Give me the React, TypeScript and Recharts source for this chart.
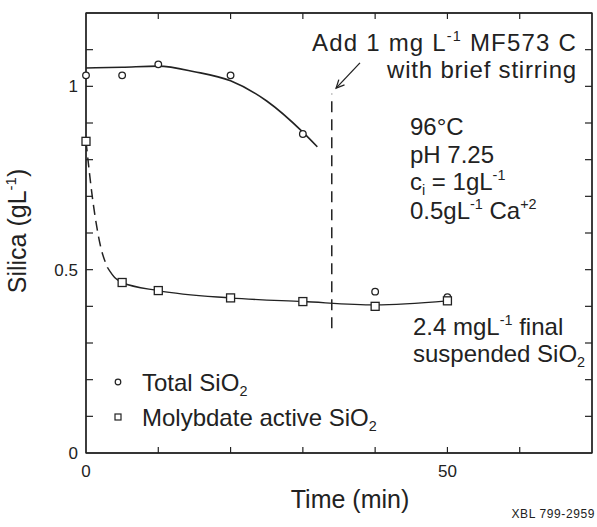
import React from 'react';
import {
  ComposedChart,
  Line,
  Scatter,
  XAxis,
  YAxis,
  ReferenceLine,
  CartesianGrid,
  Customized,
} from 'recharts';

// Measured samples
const sampleTime = [0, 5, 10, 20, 30, 40, 50];
const totalSiO2 = [1.03, 1.03, 1.06, 1.03, 0.87, 0.44, 0.425];
const molybdateSiO2 = [0.85, 0.465, 0.443, 0.423, 0.413, 0.4, 0.415];

// Hand-drawn trend curves
const totalFitTime = [0, 5, 10, 15, 20, 25, 30, 32];
const totalFitValue = [1.05, 1.052, 1.055, 1.04, 1.015, 0.96, 0.875, 0.835];
const molyDashTime = [0, 1, 2, 3];
const molyDashValue = [0.85, 0.68, 0.565, 0.505];
const molyFitTime = [3, 4, 5, 10, 20, 30, 40, 50];
const molyFitValue = [0.505, 0.478, 0.465, 0.443, 0.423, 0.413, 0.404, 0.415];

// Axes
const xDomain = [0, 70];
const yDomain = [0, 1.2];
const xLabelTicks = [0, 50];
const yLabelTicks = [0, 0.5, 1];
const xMinorTicks = [10, 20, 30, 40, 50, 60];
const yMinorTicks = [0.1, 0.2, 0.3, 0.4, 0.5, 0.6, 0.7, 0.8, 0.9, 1.0, 1.1];

// Flocculant addition marker
const additionTime = 34;
const additionSpan = [0.34, 0.98];

const pairs = (xs: number[], ys: number[]) => xs.map((x, i) => ({ x, y: ys[i] }));

const totalPoints = pairs(sampleTime, totalSiO2);
const molyPoints = pairs(sampleTime, molybdateSiO2);
const totalFit = pairs(totalFitTime, totalFitValue);
const molyDash = pairs(molyDashTime, molyDashValue);
const molyFit = pairs(molyFitTime, molyFitValue);

// Chart layout
const W = 597;
const H = 527;
const M = { top: 13, right: 5, bottom: 0, left: 0 };
const Y_AXIS_W = 86;
const X_AXIS_H = 74;
const plot = {
  left: M.left + Y_AXIS_W,
  top: M.top,
  right: W - M.right,
  bottom: H - M.bottom - X_AXIS_H,
};
const px = (v: number) => plot.left + ((v - xDomain[0]) / (xDomain[1] - xDomain[0])) * (plot.right - plot.left);
const py = (v: number) => plot.bottom - ((v - yDomain[0]) / (yDomain[1] - yDomain[0])) * (plot.bottom - plot.top);

const INK = '#222222';
const FONT = '"Liberation Sans", Arial, sans-serif';

type Part = [string, ('n' | 'sup' | 'sub')?];

const Rich = ({ x, y, parts, size, anchor = 'start', spacing = 0, transform }: {
  x: number; y: number; parts: Part[]; size: number; anchor?: string; spacing?: number; transform?: string;
}) => {
  let shift = 0;
  return (
    <text x={x} y={y} fontSize={size} fill={INK} fontFamily={FONT} textAnchor={anchor}
      letterSpacing={spacing} transform={transform}>
      {parts.map(([t, kind = 'n'], i) => {
        const target = kind === 'sup' ? -0.42 * size : kind === 'sub' ? 0.22 * size : 0;
        const dy = target - shift;
        shift = target;
        return (
          <tspan key={i} dy={dy} fontSize={kind === 'n' ? size : size * 0.6}>{t}</tspan>
        );
      })}
    </text>
  );
};

const CircleMark = (p: any) => (
  <circle cx={p.cx} cy={p.cy} r={3.3} fill="#fff" stroke={INK} strokeWidth={1.3} />
);
const SquareMark = (p: any) => (
  <rect x={p.cx - 4} y={p.cy - 4} width={8} height={8} fill="#fff" stroke={INK} strokeWidth={1.3} />
);

const Arrow = (p: any) => {
  const { x1, y1, x2, y2 } = p;
  const ang = Math.atan2(y2 - y1, x2 - x1);
  const L = 9;
  const a1 = ang + Math.PI - 0.45;
  const a2 = ang + Math.PI + 0.45;
  return (
    <g stroke={INK} strokeWidth={1.3} fill="none">
      <line x1={x1} y1={y1} x2={x2} y2={y2} />
      <path d={`M${x2 + L * Math.cos(a1)},${y2 + L * Math.sin(a1)} L${x2},${y2} L${x2 + L * Math.cos(a2)},${y2 + L * Math.sin(a2)}`} />
    </g>
  );
};

// Box frame with inward ticks on all four sides
const Frame = () => (
  <g>
    <rect x={plot.left} y={plot.top} width={plot.right - plot.left} height={plot.bottom - plot.top}
      fill="none" stroke={INK} strokeWidth={1.3} />
    {xMinorTicks.map((t) => (
      <line key={`xb${t}`} x1={px(t)} y1={plot.bottom} x2={px(t)} y2={plot.bottom - 6} stroke={INK} strokeWidth={1.2} />
    ))}
    {xMinorTicks.map((t) => (
      <line key={`xt${t}`} x1={px(t)} y1={plot.top} x2={px(t)} y2={plot.top + 6} stroke={INK} strokeWidth={1.2} />
    ))}
    {yMinorTicks.map((t) => (
      <line key={`yl${t}`} x1={plot.left} y1={py(t)} x2={plot.left + 7} y2={py(t)} stroke={INK} strokeWidth={1.2} />
    ))}
    {yMinorTicks.map((t) => (
      <line key={`yr${t}`} x1={plot.right} y1={py(t)} x2={plot.right - 7} y2={py(t)} stroke={INK} strokeWidth={1.2} />
    ))}
  </g>
);

const Annotations = () => (
  <g>
    <Frame />
    <Rich x={26} y={231} size={25} anchor="middle" transform="rotate(-90 26 231)"
      parts={[['Silica (gL'], ['-1', 'sup'], [')']]} />
    <Rich x={350} y={508} size={25} anchor="middle" parts={[['Time (min)']]} />
    <Rich x={577} y={51} size={24} anchor="end" spacing={1.2}
      parts={[['Add 1 mg L'], ['-1', 'sup'], [' MF573 C']]} />
    <Rich x={577} y={78} size={24} anchor="end" spacing={0.8} parts={[['with brief stirring']]} />
    <Rich x={410} y={135} size={24} parts={[['96°C']]} />
    <Rich x={410} y={163} size={24} parts={[['pH 7.25']]} />
    <Rich x={410} y={190} size={24} parts={[['c'], ['i', 'sub'], [' = 1gL'], ['-1', 'sup']]} />
    <Rich x={410} y={219} size={24} parts={[['0.5gL'], ['-1', 'sup'], [' Ca'], ['+2', 'sup']]} />
    <Rich x={413} y={335} size={24} parts={[['2.4 mgL'], ['-1', 'sup'], [' final']]} />
    <Rich x={413} y={362} size={24} parts={[['suspended SiO'], ['2', 'sub']]} />
    <circle cx={118} cy={382} r={2.8} fill="#fff" stroke={INK} strokeWidth={1.2} />
    <Rich x={142} y={391} size={24} parts={[['Total SiO'], ['2', 'sub']]} />
    <rect x={115} y={414} width={6} height={6} fill="#fff" stroke={INK} strokeWidth={1.2} />
    <Rich x={142} y={426} size={24} parts={[['Molybdate active SiO'], ['2', 'sub']]} />
    <text x={595} y={518} fontSize={12} fill={INK} fontFamily={FONT} textAnchor="end" letterSpacing={0.6}>
      XBL 799-2959
    </text>
  </g>
);

const axisLine = { stroke: INK, strokeWidth: 1.3 };
const tickText = { fill: INK, fontSize: 17, fontFamily: FONT };

export default function App() {
  return (
    <div style={{ position: 'fixed', left: 0, top: 0, background: '#fff' }}>
      <ComposedChart width={W} height={H} margin={M}>
        <CartesianGrid horizontalValues={[yDomain[1]]} verticalValues={[xDomain[1]]}
          stroke={INK} strokeWidth={1.3} strokeOpacity={1} />
        <XAxis type="number" dataKey="x" domain={xDomain} ticks={xLabelTicks}
          height={X_AXIS_H} tickLine={false} tickMargin={6} axisLine={axisLine} tick={tickText} />
        <YAxis type="number" dataKey="y" domain={yDomain} ticks={yLabelTicks}
          width={Y_AXIS_W} tickLine={false} axisLine={axisLine} tick={tickText} />

        <ReferenceLine segment={[{ x: additionTime, y: additionSpan[0] }, { x: additionTime, y: additionSpan[1] }]}
          stroke={INK} strokeWidth={1.5} strokeDasharray="11 7" />
        <ReferenceLine segment={[{ x: 37.9, y: 1.064 }, { x: 34.6, y: 0.995 }]} shape={<Arrow />} />

        <Line data={totalFit} dataKey="y" type="monotone" stroke={INK} strokeWidth={1.6} dot={false} isAnimationActive={false} />
        <Line data={molyDash} dataKey="y" type="monotone" stroke={INK} strokeWidth={1.5} strokeDasharray="10 6" dot={false} isAnimationActive={false} />
        <Line data={molyFit} dataKey="y" type="monotone" stroke={INK} strokeWidth={1.4} dot={false} isAnimationActive={false} />

        <Scatter data={totalPoints} dataKey="y" shape={CircleMark} isAnimationActive={false} />
        <Scatter data={molyPoints} dataKey="y" shape={SquareMark} isAnimationActive={false} />

        <Customized component={<Annotations />} />
      </ComposedChart>
    </div>
  );
}
